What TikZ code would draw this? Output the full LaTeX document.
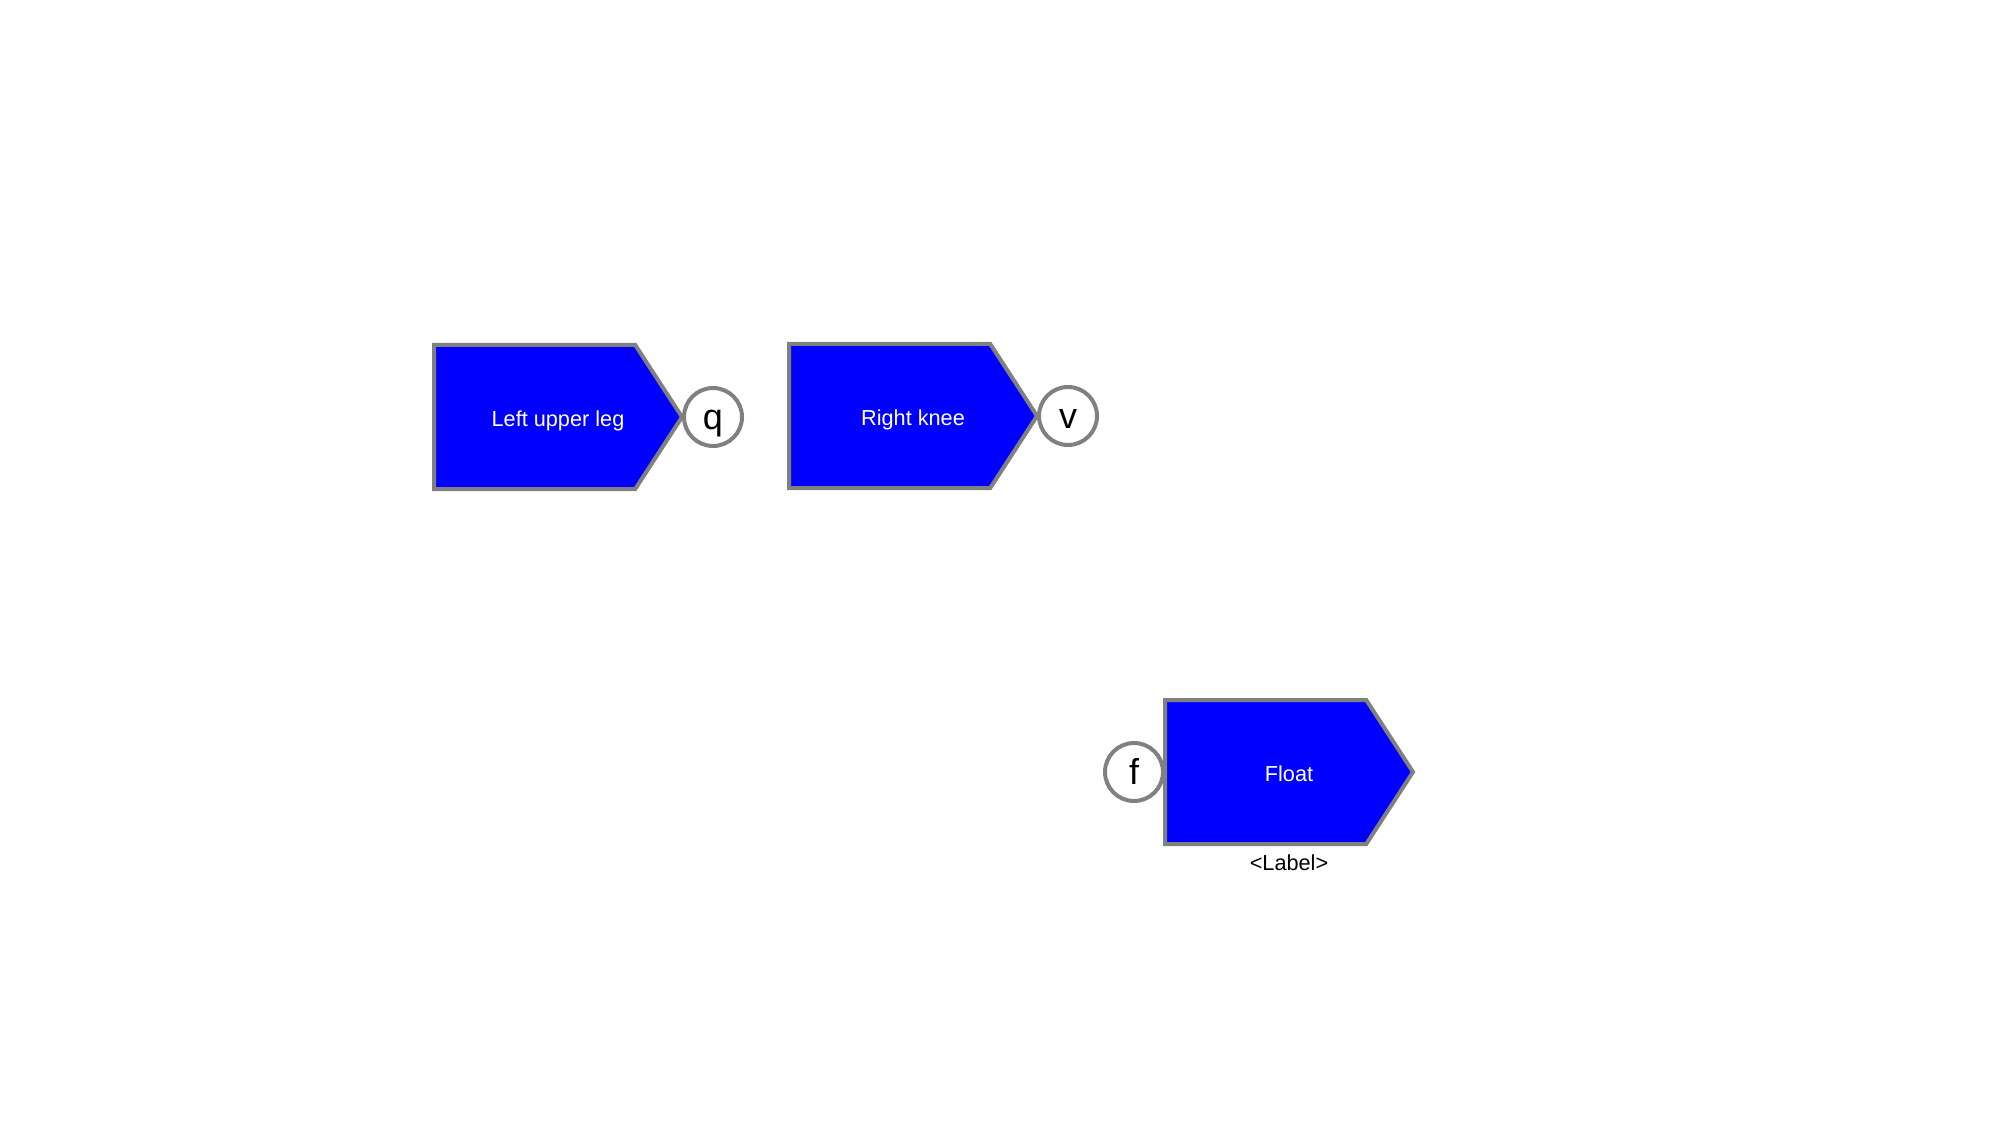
\documentclass[tikz,border=0pt]{standalone}
\usepackage{fontspec}
\setmainfont{Liberation Sans}
\usetikzlibrary{shapes.symbols,positioning,calc}
\tikzset{
    block/.style={signal, signal to=east, signal pointer angle=114, draw=gray, line width=4pt, fill=blue,
        minimum width=248pt, minimum height=144pt, inner sep=0pt, outer sep=0pt},
    blocktext/.style={text=white, inner sep=0pt, text height=19pt, text depth=0pt, font=\fontsize{21.7}{26}\selectfont},
    port/.style={circle, draw=gray, line width=4pt, fill=white, minimum size=58pt, inner sep=0pt, outer sep=0pt,
        text height=24pt, text depth=0pt, font=\fontsize{36}{40}\selectfont},
}
\begin{document}
\begin{tikzpicture}[x=1pt,y=-1pt]
    \useasboundingbox (0,0) rectangle (1999,1139);
    \node[block,anchor=west] (upperleg) at (434,417) {};
    \node[blocktext] (upperlegtext) at ($(upperleg.west)!.5!(upperleg.east)$) {Left upper leg};
    \node[port,right=2pt of upperleg] (q) {q};
    \node[block,anchor=west] (knee) at (789,416) {};
    \node[blocktext] (kneetext) at ($(knee.west)!.5!(knee.east)$) {Right knee};
    \node[port,right=2pt of knee] (v) {v};
    \node[block,anchor=west] (float) at (1165,772) {};
    \node[blocktext] (floattext) at ($(float.west)!.5!(float.east)$) {Float};
    \node[port,left=2pt of float] (f) {f};
    \node[anchor=north,yshift=-11pt,inner sep=0pt,font=\fontsize{21.7}{26}\selectfont] (label) at (floattext |- float.south) {<Label>};
\end{tikzpicture}
\end{document}
